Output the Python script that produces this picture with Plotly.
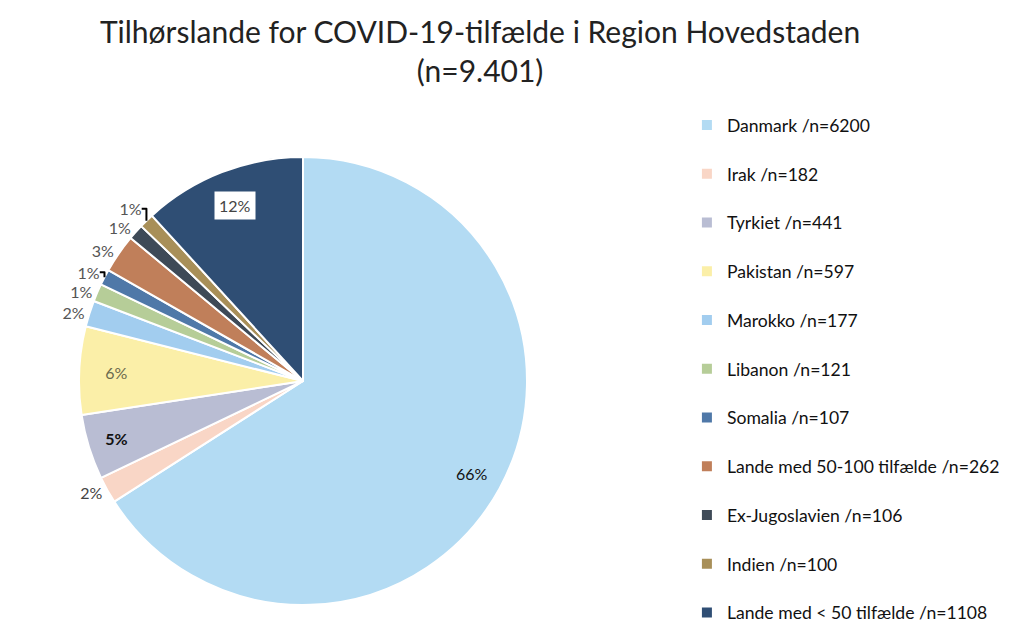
import math
import plotly.graph_objects as go

categories = ["Danmark", "Irak", "Tyrkiet", "Pakistan", "Marokko", "Libanon",
              "Somalia", "Lande med 50-100 tilfælde", "Ex-Jugoslavien", "Indien",
              "Lande med < 50 tilfælde"]
counts = [6200, 182, 441, 597, 177, 121, 107, 262, 106, 100, 1108]
colors = ["#b3dbf3", "#f9d6c6", "#b9bdd3", "#fbefa8", "#a2cdef", "#b6cd98",
          "#4f78a8", "#c07f5a", "#3e4a57", "#a88f58", "#2f4e74"]
text_pos = ["inside", "outside", "inside", "inside", "outside", "outside",
            "outside", "outside", "outside", "outside", "inside"]
text_colors = ["#111111", "#444444", "#111111", "#6b6a4e", "#555555", "#555555",
               "#555555", "#555555", "#555555", "#555555", "#444444"]

total = sum(counts)
n = len(categories)
legend_labels = [f"{c} /n={v}".replace("<", "&lt;") + ("<br> " if i < n - 1 else "")
                 for i, (c, v) in enumerate(zip(categories, counts))]
templates = ["%{percent:.0%}"] * n
templates[2] = "<b>%{percent:.0%}</b>"
templates[0] = " "   # drawn as annotation below
templates[-1] = " "  # boxed label drawn as annotation below

# page body has an 8px margin, so figure coords = screen coords - 8
cx, cy, R = 295, 373, 224  # pie center / radius in px
W, H = 1024, 623

fig = go.Figure(go.Pie(
    labels=legend_labels,
    values=counts,
    sort=False,
    direction="clockwise",
    rotation=0,
    marker=dict(colors=colors, line=dict(color="white", width=2)),
    texttemplate=templates,
    textposition=text_pos,
    textfont=dict(family="Lato", size=16, color=text_colors),
    insidetextorientation="horizontal",
    domain=dict(x=[(cx - R) / W, (cx + R) / W],
                y=[(H - cy - R) / H, (H - cy + R) / H]),
    hoverinfo="label+value+percent",
))


def slice_label(idx, rfrac, boxed):
    start = sum(counts[:idx]) / total * 360
    mid = math.radians(start + counts[idx] / total * 180)
    rr = rfrac * R
    fig.add_annotation(
        x=(cx + rr * math.sin(mid)) / W, y=(H - cy + rr * math.cos(mid)) / H,
        xref="paper", yref="paper", xanchor="center", yanchor="middle",
        text=f"{round(counts[idx] / total * 100)}%", showarrow=False,
        font=dict(family="Lato", size=16, color=text_colors[idx]),
        bgcolor="white" if boxed else "rgba(0,0,0,0)", borderpad=4)


slice_label(0, 0.86, False)
slice_label(n - 1, 0.84, True)

fig.update_layout(
    width=W, height=H,
    margin=dict(l=0, r=0, t=0, b=0, autoexpand=False),
    paper_bgcolor="white",
    title=dict(text="Tilhørslande for COVID-19-tilfælde i Region Hovedstaden<br>(n=9.401)",
               x=0.461, xanchor="center", y=0.944, yanchor="top",
               font=dict(family="Lato", size=30, color="#222222")),
    legend=dict(x=0.663, xanchor="left", y=1 - 99 / H, yanchor="top",
                font=dict(family="Lato", size=17.6, color="#111111"),
                valign="top", bgcolor="rgba(0,0,0,0)", maxheight=1000),
    showlegend=True,
)

fig.write_html("out.html")
